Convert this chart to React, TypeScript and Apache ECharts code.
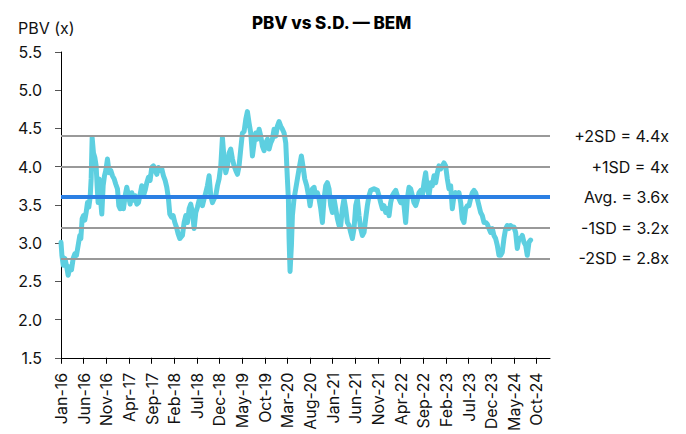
import React, { useEffect, useRef } from "react";
import * as echarts from "echarts";

// x positions in months since Jan-2016 (fractional), and PBV values
const monthPos = [
  0, 0.2, 0.5, 0.85, 1.2, 1.58, 1.95, 2.32, 2.69, 3.05, 3.42, 3.79, 4.16, 4.38, 4.67, 4.97, 5.26, 5.55, 5.85, 6.14,
  6.44, 6.66, 6.88, 7.17, 7.47, 7.76, 7.98, 8.2, 8.43, 8.72, 9.01, 9.31, 9.6, 9.9, 10.26, 10.63, 11.0, 11.37, 11.74, 12.1,
  12.47, 12.77, 13.06, 13.43, 13.8, 14.17, 14.53, 14.9, 15.27, 15.64, 16.0, 16.37, 16.74, 17.11, 17.48, 17.84, 18.21, 18.58, 18.95, 19.32,
  19.68, 20.05, 20.42, 20.79, 21.16, 21.52, 21.89, 22.26, 22.63, 23.0, 23.37, 23.73, 24.03, 24.4, 24.77, 25.14, 25.5, 25.87, 26.24, 26.82,
  27.19, 27.56, 27.93, 28.3, 28.66, 29.03, 29.4, 29.77, 30.13, 30.5, 30.87, 31.24, 31.61, 31.97, 32.34, 32.71, 33.08, 33.45, 33.81, 34.18,
  34.55, 34.92, 35.29, 35.65, 36.02, 36.39, 36.76, 37.13, 37.49, 37.86, 38.23, 38.6, 38.97, 39.33, 39.7, 40.07, 40.44, 40.81, 41.17, 41.54,
  41.91, 42.28, 42.65, 43.01, 43.38, 43.75, 44.12, 44.48, 44.85, 45.22, 45.59, 45.96, 46.32, 46.69, 47.06, 47.43, 47.8, 48.16, 48.53, 48.9,
  49.27, 49.64, 50.0, 50.22, 50.37, 50.59, 50.89, 51.11, 51.47, 51.84, 52.21, 52.58, 53.09, 53.53, 53.83, 54.27, 54.79, 55.0, 55.52, 55.89,
  56.26, 56.62, 56.99, 57.36, 57.73, 58.1, 58.46, 58.83, 59.2, 59.57, 59.94, 60.3, 60.67, 61.04, 61.41, 61.78, 62.14, 62.51, 62.88, 63.25,
  63.62, 63.98, 64.35, 64.72, 65.09, 65.45, 65.82, 66.19, 66.56, 66.93, 67.29, 67.66, 68.03, 68.4, 69.13, 69.87, 70.24, 70.61, 70.97, 71.34,
  71.71, 72.08, 72.45, 72.81, 73.18, 73.55, 73.92, 74.29, 74.65, 75.02, 75.39, 75.76, 76.12, 76.49, 76.86, 77.23, 77.6, 77.96, 78.33, 78.7,
  79.07, 79.44, 79.8, 80.17, 80.54, 80.91, 81.28, 81.64, 82.01, 82.38, 82.75, 83.12, 83.48, 83.85, 84.22, 84.59, 84.95, 85.32, 85.69, 86.06,
  86.43, 86.79, 87.16, 87.53, 87.9, 88.27, 88.63, 89.0, 89.37, 89.74, 90.11, 90.47, 90.84, 91.21, 91.58, 91.94, 92.31, 92.68, 93.05, 93.42,
  93.78, 94.15, 94.52, 94.89, 95.26, 95.62, 95.99, 96.36, 96.73, 97.1, 97.46, 97.83, 98.2, 98.57, 98.94, 99.3, 99.67, 100.04, 100.41, 100.78,
  101.14, 101.51, 101.88, 102.25, 102.62, 102.98, 103.35, 103.72,
];

const pbv = [
  3.01, 2.84, 2.71, 2.8, 2.71, 2.58, 2.69, 2.65, 2.8, 2.86, 2.84, 2.97, 3.1, 3.06, 3.32, 3.36, 3.3, 3.4, 3.53, 3.47,
  3.6, 3.84, 4.38, 4.18, 4.12, 4.01, 3.75, 3.53, 3.84, 3.58, 3.38, 3.75, 3.88, 3.95, 4.1, 3.92, 3.95, 3.88, 3.84, 3.77,
  3.71, 3.49, 3.45, 3.58, 3.45, 3.62, 3.73, 3.62, 3.51, 3.66, 3.56, 3.62, 3.51, 3.53, 3.64, 3.75, 3.62, 3.69, 3.79, 3.86,
  3.82, 3.99, 4.01, 3.95, 3.9, 3.99, 3.95, 3.97, 3.88, 3.82, 3.73, 3.58, 3.38, 3.34, 3.36, 3.27, 3.21, 3.12, 3.06, 3.1,
  3.27, 3.36, 3.27, 3.45, 3.51, 3.4, 3.19, 3.4, 3.47, 3.56, 3.58, 3.49, 3.58, 3.66, 3.75, 3.88, 3.62, 3.53, 3.58, 3.62,
  3.75, 3.84, 4.01, 4.38, 4.1, 3.92, 4.01, 4.18, 4.23, 4.1, 4.01, 3.95, 3.9, 4.01, 4.23, 4.44, 4.46, 4.62, 4.72, 4.57,
  4.44, 4.14, 4.31, 4.44, 4.36, 4.49, 4.4, 4.27, 4.21, 4.31, 4.36, 4.23, 4.31, 4.36, 4.49, 4.4, 4.53, 4.59, 4.53, 4.49,
  4.44, 4.31, 3.84, 3.58, 3.06, 2.63, 2.97, 3.36, 3.58, 3.71, 3.84, 3.97, 4.14, 3.97, 3.84, 3.75, 3.58, 3.49, 3.71, 3.73,
  3.62, 3.66, 3.58, 3.45, 3.27, 3.58, 3.75, 3.79, 3.71, 3.49, 3.4, 3.58, 3.45, 3.32, 3.23, 3.23, 3.45, 3.58, 3.45, 3.27,
  3.23, 3.14, 3.06, 3.19, 3.49, 3.58, 3.36, 3.19, 3.1, 3.14, 3.32, 3.49, 3.62, 3.69, 3.71, 3.69, 3.62, 3.53, 3.45, 3.49,
  3.4, 3.45, 3.36, 3.53, 3.62, 3.66, 3.69, 3.62, 3.58, 3.53, 3.58, 3.49, 3.27, 3.58, 3.73, 3.71, 3.62, 3.53, 3.49, 3.56,
  3.66, 3.69, 3.62, 3.79, 3.92, 3.71, 3.62, 3.79, 3.75, 3.88, 3.79, 3.92, 4.01, 3.97, 4.01, 4.05, 4.01, 3.84, 3.71, 3.75,
  3.45, 3.62, 3.66, 3.62, 3.66, 3.53, 3.32, 3.27, 3.45, 3.49, 3.49, 3.58, 3.66, 3.69, 3.66, 3.58, 3.49, 3.4, 3.36, 3.27,
  3.27, 3.25, 3.19, 3.14, 3.19, 3.1, 3.06, 2.97, 2.84, 2.84, 2.88, 3.06, 3.19, 3.23, 3.19, 3.23, 3.21, 3.21, 3.14, 2.93,
  3.06, 3.06, 3.1, 3.01, 2.97, 2.84, 3.01, 3.04,
];

const tickMonths = [0, 5, 10, 15, 20, 25, 30, 35, 40, 45, 50, 55, 60, 65, 70, 75, 80, 85, 90, 95, 100, 105];
const tickLabels = [
  "Jan-16", "Jun-16", "Nov-16", "Apr-17", "Sep-17", "Feb-18", "Jul-18", "Dec-18", "May-19", "Oct-19", "Mar-20",
  "Aug-20", "Jan-21", "Jun-21", "Nov-21", "Apr-22", "Sep-22", "Feb-23", "Jul-23", "Dec-23", "May-24", "Oct-24",
];

const sdLevels = [4.4, 4.0, 3.2, 2.8];
const sdLabels = ["+2SD = 4.4x", "+1SD = 4x", "-1SD = 3.2x", "-2SD = 2.8x"];
const avgLevel = 3.6;
const avgLabel = "Avg. = 3.6x";

const FONT = "Inter";

export default function App() {
  const ref = useRef<HTMLDivElement>(null);

  useEffect(() => {
    if (!ref.current) return;
    const chart = echarts.init(ref.current, null, { renderer: "svg" });

    const lineLabel = {
      show: true,
      position: "end",
      align: "right",
      distance: 119,
      color: "#111",
      fontSize: 16,
      fontFamily: FONT,
      formatter: (p: any) => p.name,
    };

    chart.setOption({
      animation: false,
      backgroundColor: "#fff",
      title: {
        text: "PBV vs S.D. — BEM",
        left: 252,
        top: 14,
        padding: 0,
        textStyle: { fontSize: 17, fontWeight: 800, fontFamily: FONT, color: "#000" },
      },
      graphic: [
        {
          type: "text",
          left: 18,
          top: 20,
          style: { text: "PBV (x)", fontSize: 16, fontFamily: FONT, fill: "#111" },
        },
      ],
      grid: { left: 61, right: 136, top: 52, bottom: 74, containLabel: false },
      xAxis: {
        type: "value",
        min: 0,
        max: 108,
        splitLine: { show: false },
        axisLine: { show: true, lineStyle: { color: "#000", width: 1 } },
        axisTick: { show: true, length: 6, lineStyle: { color: "#000" }, customValues: tickMonths },
        axisLabel: {
          customValues: tickMonths,
          rotate: 90,
          margin: 15,
          fontSize: 16,
          fontFamily: FONT,
          color: "#111",
          formatter: (v: number) => {
            const i = tickMonths.indexOf(Math.round(v));
            return i >= 0 ? tickLabels[i] : "";
          },
        },
      },
      yAxis: {
        type: "value",
        min: 1.5,
        max: 5.5,
        interval: 0.5,
        splitLine: { show: false },
        axisLine: { show: true, lineStyle: { color: "#000", width: 1 } },
        axisTick: { show: true, length: 6, lineStyle: { color: "#555" } },
        axisLabel: {
          margin: 19,
          fontSize: 16,
          fontFamily: FONT,
          color: "#111",
          formatter: (v: number) => v.toFixed(1),
        },
      },
      series: [
        {
          type: "line",
          data: [],
          z: 1,
          markLine: {
            silent: true,
            symbol: "none",
            lineStyle: { color: "#999", width: 2, type: "solid" },
            label: lineLabel,
            emphasis: { disabled: true },
            data: sdLevels.map((y, i) => ({ yAxis: y, name: sdLabels[i] })),
          },
        },
        {
          type: "line",
          z: 2,
          data: monthPos.map((m, i) => [m, pbv[i]]),
          showSymbol: false,
          symbol: "none",
          smooth: false,
          lineStyle: { color: "#5DCFE0", width: 5, join: "round", cap: "round" },
          itemStyle: { color: "#5DCFE0" },
        },
        {
          type: "line",
          data: [],
          z: 3,
          markLine: {
            silent: true,
            symbol: "none",
            lineStyle: { color: "#2B7FE3", width: 4, type: "solid" },
            label: lineLabel,
            emphasis: { disabled: true },
            data: [{ yAxis: avgLevel, name: avgLabel }],
          },
        },
      ],
    });

    return () => chart.dispose();
  }, []);

  return <div ref={ref} style={{ width: 686, height: 434, marginLeft: -8, marginTop: -8 }} />;
}
